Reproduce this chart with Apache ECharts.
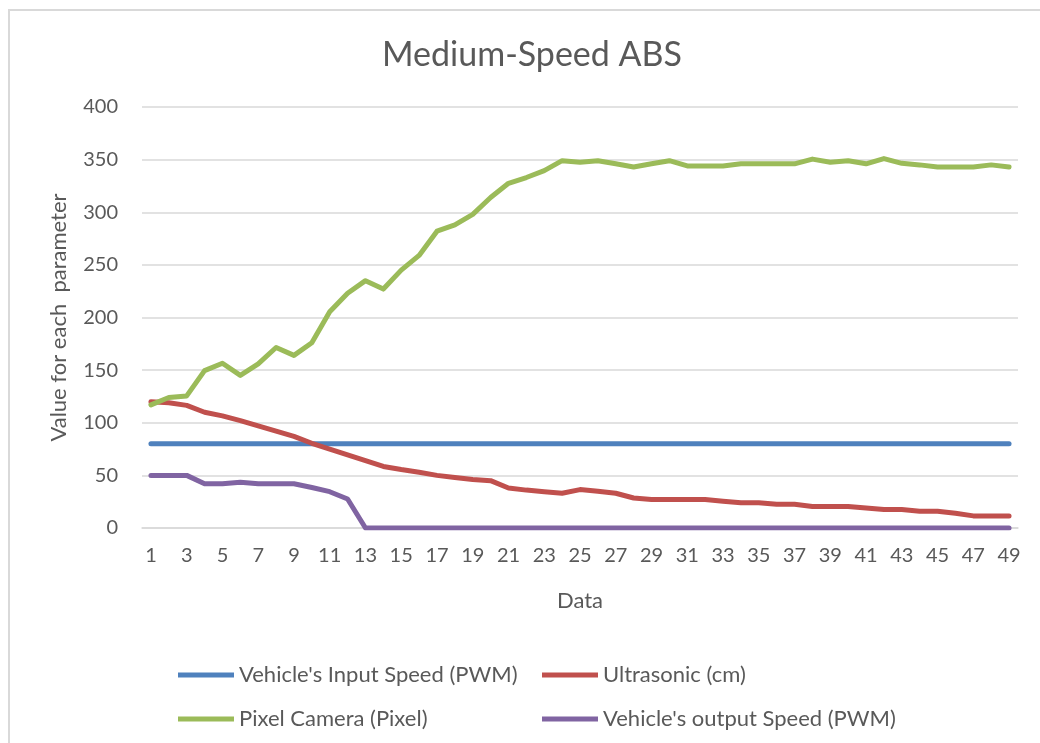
<!DOCTYPE html>
<html>
<head>
<meta charset="utf-8">
<script src="https://cdn.jsdelivr.net/npm/echarts@6/dist/echarts.min.js"></script>
<style>html,body{margin:0;padding:0;background:#fff;}#c{width:1040px;height:743px;}</style>
</head>
<body>
<div id="c"></div>
<script>
const categories = Array.from({length: 49}, (_, i) => String(i + 1));
const inputSpeed = [80,80,80,80,80,80,80,80,80,80,80,80,80,80,80,80,80,80,80,80,80,80,80,80,80,80,80,80,80,80,80,80,80,80,80,80,80,80,80,80,80,80,80,80,80,80,80,80,80];
const ultrasonic = [120,119,116.5,110,106.5,102,97,92,87,80.5,75,69.5,64,58.5,55.5,53,50,48,46,45,38,36,34.5,33,36.5,35,33,28.5,27,27,27,27,25.5,24,24,22.5,22.5,20.5,20.5,20.5,19,17.5,17.5,16,16,14,11.5,11.5,11.5];
const pixelCamera = [117,124,125.5,149.5,156.5,145,156,171.5,164,176,205.5,223,235,227,245,259,282,288,298,314,327.5,333,339.5,349,347.5,349,346,343,346,349,344,344,344,346,346,346,346,350.5,347.5,349,346,351,346.5,345,343,343,343,345,343];
const outputSpeed = [50,50,50,42,42,43.5,42,42,42,38.5,34.5,27.5,0,0,0,0,0,0,0,0,0,0,0,0,0,0,0,0,0,0,0,0,0,0,0,0,0,0,0,0,0,0,0,0,0,0,0,0,0];
const seriesNames = ["Vehicle's Input Speed (PWM)", "Ultrasonic (cm)", "Pixel Camera (Pixel)", "Vehicle's output Speed (PWM)"];
const colors = ['#4f81bd', '#c0504d', '#9bbb59', '#8064a2'];

const FONT = 'Lato';
const TXT = '#595959';
const chart = echarts.init(document.getElementById('c'));
const mk = (name, data, color) => ({
  name, type: 'line', data, symbol: 'none', smooth: false,
  lineStyle: { width: 5, color, cap: 'round', join: 'round' },
  itemStyle: { color }
});
const legendText = { fontFamily: FONT, fontSize: 22, color: TXT, lineHeight: 24 };
chart.setOption({
  animation: false,
  backgroundColor: '#fff',
  textStyle: { fontFamily: FONT },
  title: {
    text: 'Medium-Speed ABS', left: 527, top: 33, textAlign: 'center',
    textStyle: { fontFamily: FONT, fontSize: 34, fontWeight: 'normal', color: TXT }
  },
  graphic: [
    { type: 'polyline', shape: { points: [[9, 743], [9, 10], [1040, 10]] }, style: { stroke: '#d9d9d9', lineWidth: 2, fill: null } }
  ],
  legend: [
    { orient: 'vertical', left: 173, top: 658, itemWidth: 56, itemHeight: 5, itemGap: 20, itemTextGap: 5, icon: 'rect',
      data: [seriesNames[0], seriesNames[2]], textStyle: legendText },
    { orient: 'vertical', left: 537, top: 658, itemWidth: 56, itemHeight: 5, itemGap: 20, itemTextGap: 5, icon: 'rect',
      data: [seriesNames[1], seriesNames[3]], textStyle: legendText }
  ],
  grid: { left: 142, right: 22, top: 107, bottom: 215, containLabel: false },
  xAxis: {
    type: 'category', data: categories, boundaryGap: true,
    name: 'Data', nameLocation: 'middle', nameGap: 62,
    nameTextStyle: { fontFamily: FONT, fontSize: 22, color: TXT },
    axisLine: { lineStyle: { color: '#d9d9d9', width: 1.5 } },
    axisTick: { show: false },
    axisLabel: { interval: 1, margin: 18, fontFamily: FONT, fontSize: 20, color: TXT }
  },
  yAxis: {
    type: 'value', min: 0, max: 400, interval: 50,
    name: 'Value for each  parameter', nameLocation: 'middle', nameGap: 72, nameRotate: 90,
    nameTextStyle: { fontFamily: FONT, fontSize: 22, color: TXT },
    axisLine: { show: false }, axisTick: { show: false },
    splitLine: { lineStyle: { color: '#d9d9d9', width: 1.5 } },
    axisLabel: { margin: 24, fontFamily: FONT, fontSize: 20, color: TXT }
  },
  series: [
    mk(seriesNames[0], inputSpeed, colors[0]),
    mk(seriesNames[1], ultrasonic, colors[1]),
    mk(seriesNames[2], pixelCamera, colors[2]),
    mk(seriesNames[3], outputSpeed, colors[3])
  ]
});
</script>
</body>
</html>
